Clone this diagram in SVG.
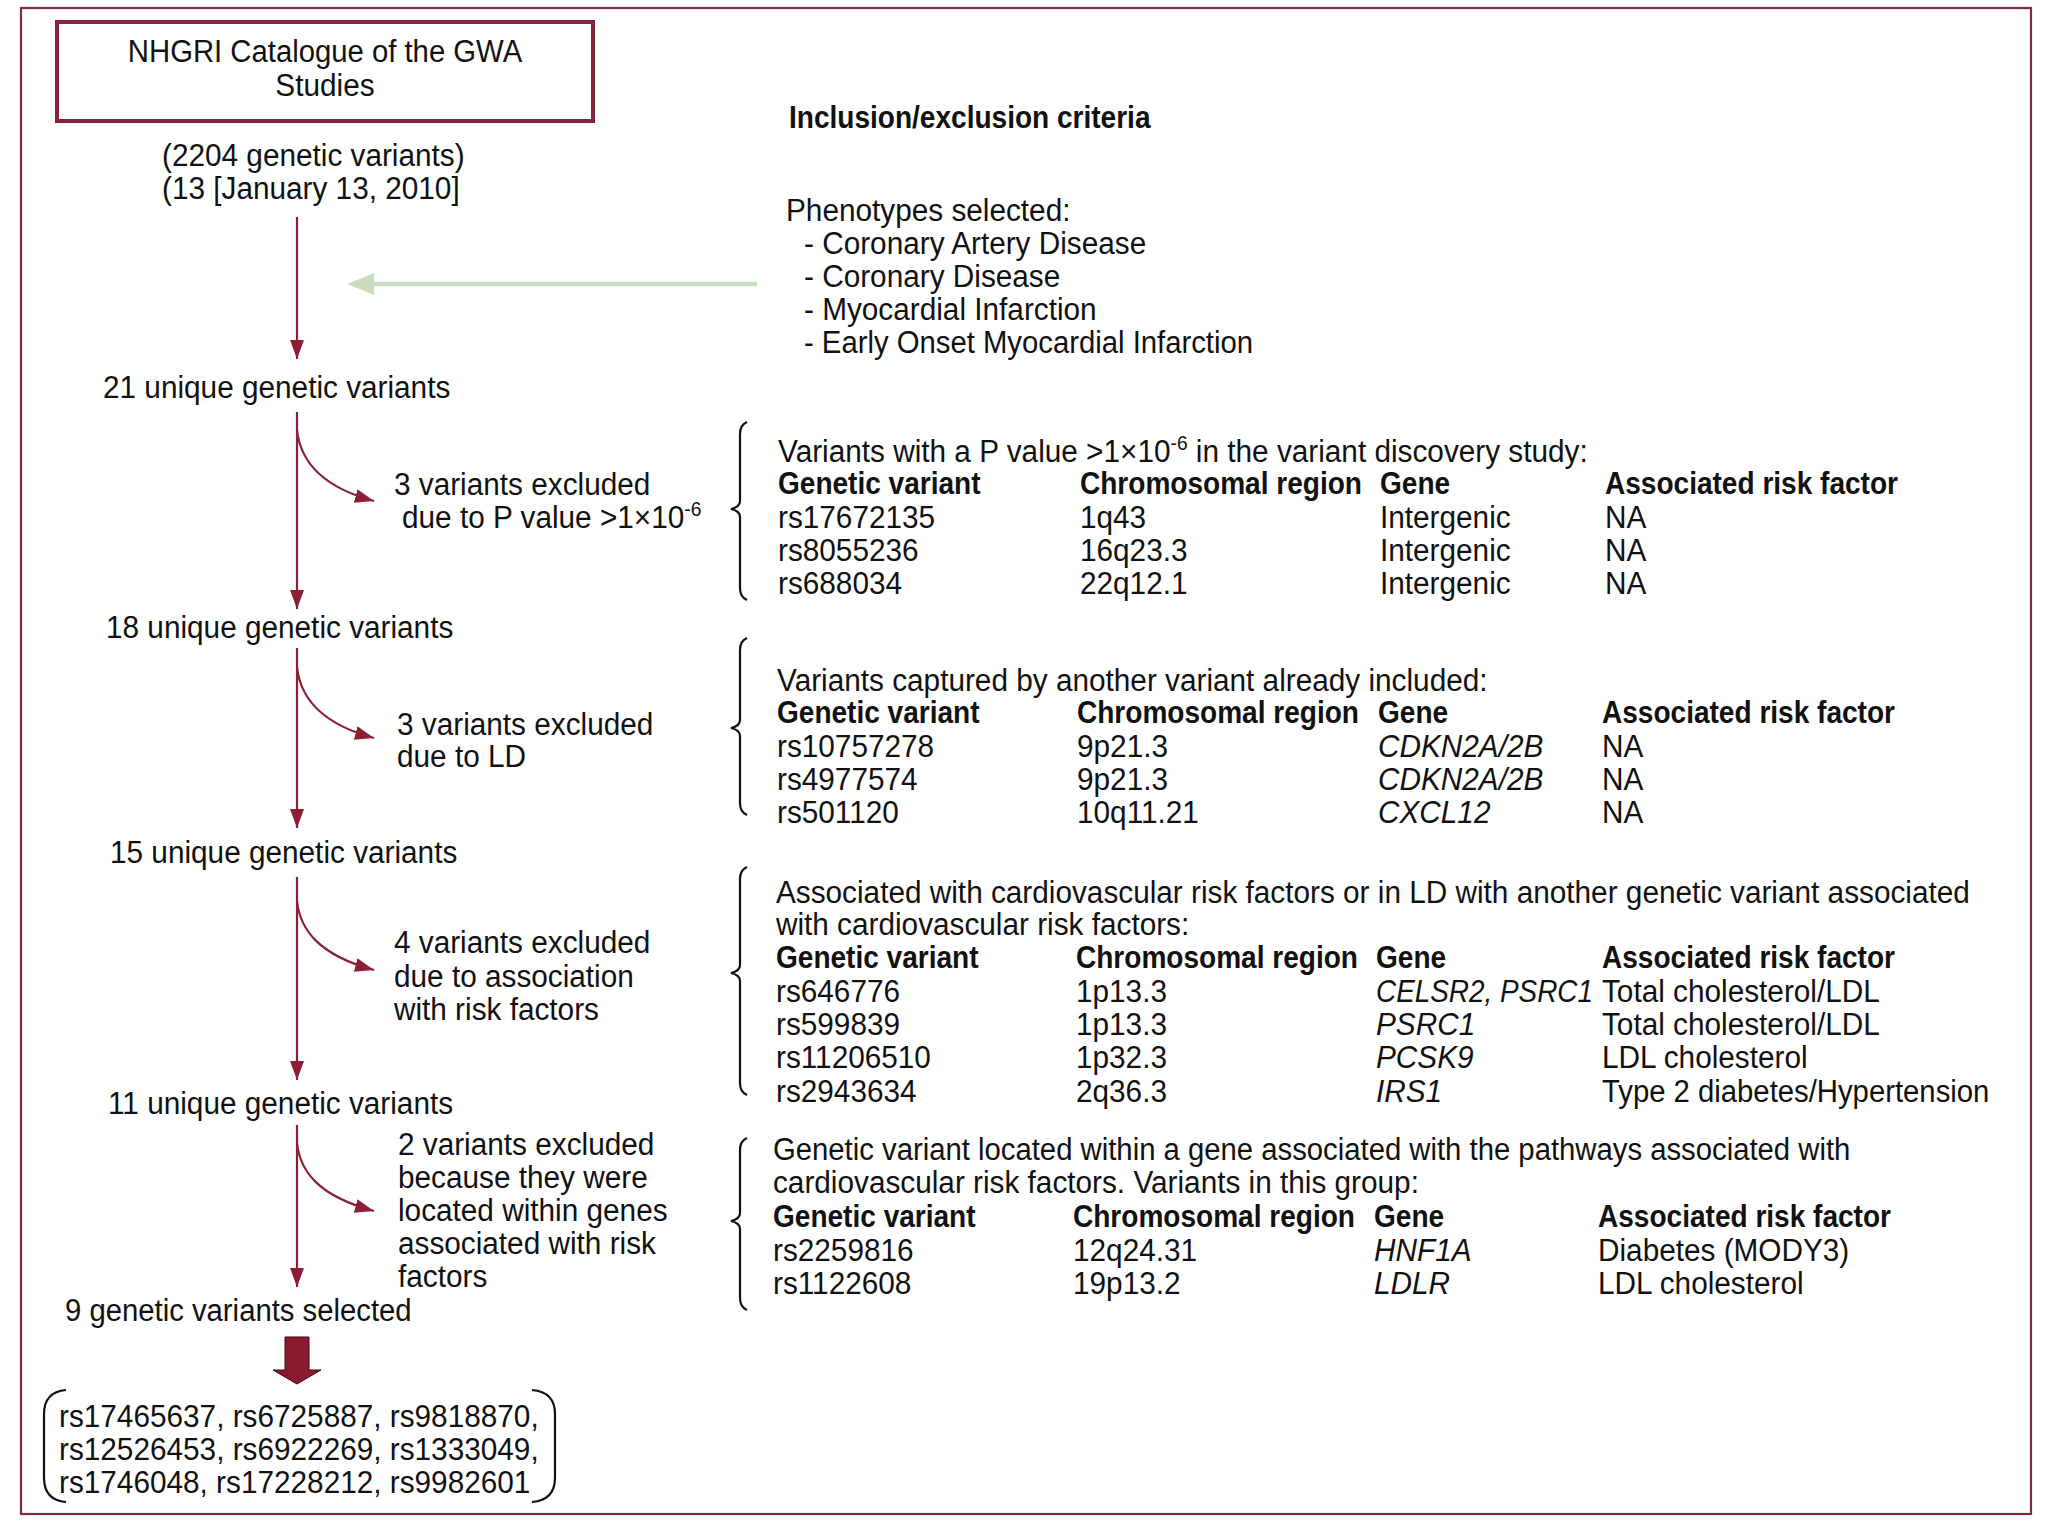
<svg xmlns="http://www.w3.org/2000/svg" width="2054" height="1525" viewBox="0 0 2054 1525">
<style>
.t{font-family:"Liberation Sans",Arial,sans-serif;font-size:31px;fill:#111;transform-box:fill-box;transform-origin:0 0;transform:scaleX(0.96)}
.b{font-weight:bold;transform:scaleX(0.905)}
.n{transform:scaleX(0.945)}
.i{font-style:italic}
.c{text-anchor:middle;transform-origin:50% 0}
.sup{font-size:20px}
.ln{fill:none;stroke:#8c1f35;stroke-width:2.2}
.br{fill:none;stroke:#111;stroke-width:2.2}
</style>
<defs>
<marker id="ah" markerUnits="userSpaceOnUse" markerWidth="20" markerHeight="16" refX="19" refY="7" orient="auto"><path d="M0,0 L19,7 L0,14 z" fill="#8c1f35"/></marker>
</defs>
<rect x="0" y="0" width="2054" height="1525" fill="#fff"/>
<rect x="21" y="8" width="2010" height="1506" fill="none" stroke="#7e2c3d" stroke-width="2.2"/>

<g id="connectors">
<line class="ln" x1="297" y1="217" x2="297" y2="359" marker-end="url(#ah)"/>
<line class="ln" x1="297" y1="412" x2="297" y2="609" marker-end="url(#ah)"/>
<line class="ln" x1="297" y1="648" x2="297" y2="828" marker-end="url(#ah)"/>
<line class="ln" x1="297" y1="877" x2="297" y2="1080" marker-end="url(#ah)"/>
<line class="ln" x1="297" y1="1125" x2="297" y2="1287" marker-end="url(#ah)"/>
<path class="ln" d="M297,430 C300,458 318,486 374,501" marker-end="url(#ah)"/>
<path class="ln" d="M297,667 C300,695 318,723 374,738" marker-end="url(#ah)"/>
<path class="ln" d="M297,901 C300,929 318,955 374,970" marker-end="url(#ah)"/>
<path class="ln" d="M297,1143 C300,1171 318,1196 374,1211" marker-end="url(#ah)"/>
<line x1="757" y1="284" x2="370" y2="284" stroke="#cbdcc1" stroke-width="4.5"/>
<polygon points="347,284 374,273 374,295" fill="#cbdcc1"/>
<polygon points="285,1337 309,1337 309,1370 321,1370 297,1384 273,1370 285,1370" fill="#8b1a2e" stroke="#3a0a12" stroke-width="1"/>
</g>

<g id="source">
<rect x="57" y="22" width="536" height="99" fill="none" stroke="#832637" stroke-width="4"/>
<text class="t c n" x="325" y="62">NHGRI Catalogue of the GWA</text>
<text class="t c" x="325" y="96">Studies</text>
</g>

<g id="n2204">
<text class="t" x="162" y="166">(2204 genetic variants)</text>
<text class="t" x="162" y="199">(13 [January 13, 2010]</text>
</g>

<g id="criteria">
<text class="t b" x="789" y="128">Inclusion/exclusion criteria</text>
<text class="t" x="786" y="221">Phenotypes selected:</text>
<text class="t" x="804" y="254">- Coronary Artery Disease</text>
<text class="t" x="804" y="287">- Coronary Disease</text>
<text class="t" x="804" y="320">- Myocardial Infarction</text>
<text class="t n" x="804" y="353">- Early Onset Myocardial Infarction</text>
</g>

<g id="n21"><text class="t" x="103" y="398">21 unique genetic variants</text></g>
<g id="n18"><text class="t" x="106" y="638">18 unique genetic variants</text></g>
<g id="n15"><text class="t" x="110" y="863">15 unique genetic variants</text></g>
<g id="n11"><text class="t" x="108" y="1114">11 unique genetic variants</text></g>
<g id="n9"><text class="t n" x="65" y="1321">9 genetic variants selected</text></g>

<g id="ex1">
<text class="t" x="394" y="495">3 variants excluded</text>
<text class="t" x="402" y="528">due to P value &gt;1×10<tspan class="sup" dy="-12">-6</tspan></text>
</g>
<g id="ex2">
<text class="t" x="397" y="735">3 variants excluded</text>
<text class="t" x="397" y="767">due to LD</text>
</g>
<g id="ex3">
<text class="t" x="394" y="953">4 variants excluded</text>
<text class="t" x="394" y="987">due to association</text>
<text class="t" x="394" y="1020">with risk factors</text>
</g>
<g id="ex4">
<text class="t" x="398" y="1155">2 variants excluded</text>
<text class="t" x="398" y="1188">because they were</text>
<text class="t" x="398" y="1221">located within genes</text>
<text class="t" x="398" y="1254">associated with risk</text>
<text class="t" x="398" y="1287">factors</text>
</g>

<g id="table1">
<path class="br" d="M747,422 Q740,425 740,434 L740,501 Q740,507 731,509 Q740,511 740,517 L740,588 Q740,597 747,600"/>
<text class="t" x="778" y="462">Variants with a P value &gt;1×10<tspan class="sup" dy="-12">-6</tspan><tspan dy="12"> in the variant discovery study:</tspan></text>
<text class="t b" x="778" y="494">Genetic variant</text>
<text class="t b" x="1080" y="494">Chromosomal region</text>
<text class="t b" x="1380" y="494">Gene</text>
<text class="t b" x="1605" y="494">Associated risk factor</text>
<text class="t" x="778" y="528">rs17672135</text><text class="t" x="1080" y="528">1q43</text><text class="t" x="1380" y="528">Intergenic</text><text class="t" x="1605" y="528">NA</text>
<text class="t" x="778" y="561">rs8055236</text><text class="t" x="1080" y="561">16q23.3</text><text class="t" x="1380" y="561">Intergenic</text><text class="t" x="1605" y="561">NA</text>
<text class="t" x="778" y="594">rs688034</text><text class="t" x="1080" y="594">22q12.1</text><text class="t" x="1380" y="594">Intergenic</text><text class="t" x="1605" y="594">NA</text>
</g>

<g id="table2">
<path class="br" d="M747,638 Q740,641 740,650 L740,720 Q740,726 731,728 Q740,730 740,736 L740,803 Q740,812 747,815"/>
<text class="t" x="777" y="691">Variants captured by another variant already included:</text>
<text class="t b" x="777" y="723">Genetic variant</text>
<text class="t b" x="1077" y="723">Chromosomal region</text>
<text class="t b" x="1378" y="723">Gene</text>
<text class="t b" x="1602" y="723">Associated risk factor</text>
<text class="t" x="777" y="757">rs10757278</text><text class="t" x="1077" y="757">9p21.3</text><text class="t i" x="1378" y="757">CDKN2A/2B</text><text class="t" x="1602" y="757">NA</text>
<text class="t" x="777" y="790">rs4977574</text><text class="t" x="1077" y="790">9p21.3</text><text class="t i" x="1378" y="790">CDKN2A/2B</text><text class="t" x="1602" y="790">NA</text>
<text class="t" x="777" y="823">rs501120</text><text class="t" x="1077" y="823">10q11.21</text><text class="t i" x="1378" y="823">CXCL12</text><text class="t" x="1602" y="823">NA</text>
</g>

<g id="table3">
<path class="br" d="M747,867 Q740,870 740,879 L740,965 Q740,971 731,973 Q740,975 740,981 L740,1083 Q740,1092 747,1095"/>
<text class="t" x="776" y="903">Associated with cardiovascular risk factors or in LD with another genetic variant associated</text>
<text class="t" x="776" y="935">with cardiovascular risk factors:</text>
<text class="t b" x="776" y="968">Genetic variant</text>
<text class="t b" x="1076" y="968">Chromosomal region</text>
<text class="t b" x="1376" y="968">Gene</text>
<text class="t b" x="1602" y="968">Associated risk factor</text>
<text class="t" x="776" y="1002">rs646776</text><text class="t" x="1076" y="1002">1p13.3</text><text class="t i" x="1376" y="1002" style="transform:scaleX(0.9)">CELSR2, PSRC1</text><text class="t" x="1602" y="1002">Total cholesterol/LDL</text>
<text class="t" x="776" y="1035">rs599839</text><text class="t" x="1076" y="1035">1p13.3</text><text class="t i" x="1376" y="1035">PSRC1</text><text class="t" x="1602" y="1035">Total cholesterol/LDL</text>
<text class="t" x="776" y="1068">rs11206510</text><text class="t" x="1076" y="1068">1p32.3</text><text class="t i" x="1376" y="1068">PCSK9</text><text class="t" x="1602" y="1068">LDL cholesterol</text>
<text class="t" x="776" y="1102">rs2943634</text><text class="t" x="1076" y="1102">2q36.3</text><text class="t i" x="1376" y="1102">IRS1</text><text class="t n" x="1602" y="1102">Type 2 diabetes/Hypertension</text>
</g>

<g id="table4">
<path class="br" d="M747,1138 Q740,1141 740,1150 L740,1213 Q740,1219 731,1221 Q740,1223 740,1229 L740,1298 Q740,1307 747,1310"/>
<text class="t n" x="773" y="1160">Genetic variant located within a gene associated with the pathways associated with</text>
<text class="t" x="773" y="1193">cardiovascular risk factors. Variants in this group:</text>
<text class="t b" x="773" y="1227">Genetic variant</text>
<text class="t b" x="1073" y="1227">Chromosomal region</text>
<text class="t b" x="1374" y="1227">Gene</text>
<text class="t b" x="1598" y="1227">Associated risk factor</text>
<text class="t" x="773" y="1261">rs2259816</text><text class="t" x="1073" y="1261">12q24.31</text><text class="t i" x="1374" y="1261">HNF1A</text><text class="t" x="1598" y="1261">Diabetes (MODY3)</text>
<text class="t" x="773" y="1294">rs1122608</text><text class="t" x="1073" y="1294">19p13.2</text><text class="t i" x="1374" y="1294">LDLR</text><text class="t" x="1598" y="1294">LDL cholesterol</text>
</g>

<g id="final">
<path class="br" d="M66,1390 Q44,1392 44,1414 L44,1478 Q44,1500 66,1502"/>
<path class="br" d="M532,1390 Q555,1392 555,1414 L555,1478 Q555,1500 532,1502"/>
<text class="t" x="59" y="1427">rs17465637, rs6725887, rs9818870,</text>
<text class="t" x="59" y="1460">rs12526453, rs6922269, rs1333049,</text>
<text class="t" x="59" y="1493">rs1746048, rs17228212, rs9982601</text>
</g>
</svg>
